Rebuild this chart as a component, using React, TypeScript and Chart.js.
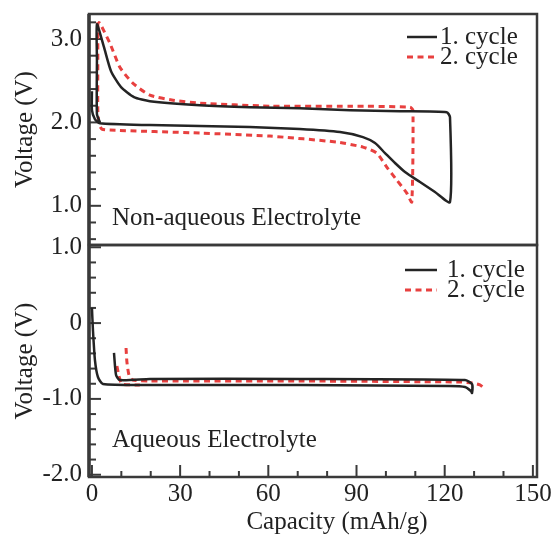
import React, { useEffect, useRef } from "react";
import { Chart, registerables } from "chart.js";

Chart.register(...registerables);

// ---- shared capacity axis (mAh/g) ----
const capacityMin = -1;
const capacityMax = 151.4;
const capacityTicks = [0, 30, 60, 90, 120, 150];
const capacityTitle = "Capacity (mAh/g)";

// ---- non-aqueous panel (V) ----
const nonAqVoltMin = 0.53;
const nonAqVoltMax = 3.3;
const nonAqVoltTicks = [1.0, 2.0, 3.0];

// cycle 1: discharge to 1.0 V, then charge traced back towards zero capacity
const nonAqCycle1Cap = [
  0, 0, 1.0, 2.7, 19.7, 36.7, 53.7, 70.7, 84.4, 92.2, 96.3, 99.7, 103.1, 106.5, 111.6, 116.7, 121.8,
  121.8, 120.7, 104.8, 87.8, 70.7, 53.7, 36.7, 19.7, 14.3, 9.9, 6.5, 4.1, 1.7,
  1.7, 1.7, 2.7,
];
const nonAqCycle1Volt = [
  2.375, 2.147, 2.04, 1.99, 1.968, 1.956, 1.944, 1.92, 1.884, 1.824, 1.752, 1.632, 1.513, 1.405, 1.285, 1.165, 1.045,
  2.063, 2.123, 2.135, 2.147, 2.171, 2.183, 2.207, 2.255, 2.303, 2.423, 2.614, 2.902, 3.177,
  2.746, 2.1, 2.004,
];

// cycle 2
const nonAqCycle2Cap = [
  2.0, 2.0, 2.0, 2.4, 3.4, 6.1, 36.7, 60.5, 83.3, 92.2, 96.9, 100.3, 103.7, 107.1, 108.8,
  109.2, 108.2, 87.8, 60.5, 36.7, 27.6, 19.7, 13.9, 9.5, 6.1, 2.7, 2.0,
];
const nonAqCycle2Volt = [
  3.201, 2.746, 2.147, 1.98, 1.92, 1.908, 1.872, 1.836, 1.764, 1.704, 1.632, 1.464, 1.309, 1.153, 1.045,
  2.147, 2.183, 2.195, 2.195, 2.231, 2.267, 2.327, 2.471, 2.662, 2.95, 3.189, 3.201,
];

// ---- aqueous panel (V) ----
const aqVoltMin = -2.03;
const aqVoltMax = 1.03;
const aqVoltTicks = [-2.0, -1.0, 0, 1.0];

const aqCycle1Cap = [
  0, 0.34, 1.02, 2.04, 3.74, 19.7, 70.7, 121.8, 126.9, 128.9, 129.3,
  129.3, 126.9, 70.7, 19.7, 9.5, 8.2, 7.5,
];
const aqCycle1Volt = [
  0.199, -0.091, -0.487, -0.711, -0.803, -0.816, -0.816, -0.83, -0.843, -0.896, -0.922,
  -0.803, -0.751, -0.737, -0.737, -0.751, -0.685, -0.394,
];

const aqCycle2Cap = [
  11.6, 11.9, 12.6, 13.9, 19.7, 70.7, 125.2, 129.3, 132.0, 133.3,
  133.3,
  8.5, 9.2, 10.2, 16.3,
];
const aqCycle2Volt = [
  -0.328, -0.513, -0.685, -0.751, -0.764, -0.764, -0.777, -0.79, -0.816, -0.856,
  null,
  -0.566, -0.698, -0.803, -0.816,
];

const cycleLabels = ["1. cycle", "2. cycle"];
const panelTitles = ["Non-aqueous Electrolyte", "Aqueous Electrolyte"];

// ---- styling ----
const SERIF = "'Liberation Serif', 'Times New Roman', serif";
const TEXT = "#222222";
const FRAME = "#3a3a3a";
const BLACK = "#242424";
const RED = "#e8403f";

const toPoints = (xs: number[], ys: (number | null)[]) =>
  xs.map((x, i) => ({ x, y: ys[i] }));

const fmtVolt = (v: number) => (v === 0 ? "0" : Number(v).toFixed(1));

const cycleDatasets = (c1x: number[], c1y: (number | null)[], c2x: number[], c2y: (number | null)[]) => [
  {
    label: cycleLabels[0],
    data: toPoints(c1x, c1y),
    borderColor: BLACK,
    borderWidth: 2.5,
    pointRadius: 0,
    tension: 0.2,
    showLine: true,
    fill: false,
  },
  {
    label: cycleLabels[1],
    data: toPoints(c2x, c2y),
    borderColor: RED,
    borderWidth: 3,
    borderDash: [6, 4.5],
    pointRadius: 0,
    tension: 0.2,
    showLine: true,
    fill: false,
  },
];

// Frame, inward tick marks, panel caption, legend and capacity title
const panelDecor = {
  id: "panelDecor",
  beforeDatasetsDraw(chart: any, _args: any, opts: any) {
    const { ctx, chartArea: a, scales } = chart;
    const ys = scales.y;
    const xs = scales.x;
    ctx.save();
    ctx.strokeStyle = FRAME;
    ctx.lineCap = "butt";

    // y ticks
    ctx.lineWidth = 2;
    const yMajor: number[] = opts.yMajor;
    yMajor.forEach((v) => {
      const p = ys.getPixelForValue(v);
      ctx.beginPath();
      ctx.moveTo(a.left, p);
      ctx.lineTo(a.left + 12, p);
      ctx.stroke();
    });
    for (let k = Math.ceil(ys.min / opts.yMinorStep); k * opts.yMinorStep <= ys.max; k++) {
      const v = Math.round(k * opts.yMinorStep * 100) / 100;
      if (yMajor.some((m) => Math.abs(m - v) < 1e-6)) continue;
      const p = ys.getPixelForValue(v);
      ctx.beginPath();
      ctx.moveTo(a.left, p);
      ctx.lineTo(a.left + 7, p);
      ctx.stroke();
    }

    // x ticks (bottom panel only)
    if (opts.xTicks) {
      for (let v = 0; v <= 150; v += 10) {
        const p = xs.getPixelForValue(v);
        const len = v % 30 === 0 ? 12 : 6;
        ctx.beginPath();
        ctx.moveTo(p, a.bottom);
        ctx.lineTo(p, a.bottom - len);
        ctx.stroke();
      }
    }

    // frame
    ctx.lineWidth = 2.5;
    ctx.strokeRect(a.left, a.top, a.right - a.left, a.bottom - a.top);
    ctx.lineWidth = 3.5;
    ctx.beginPath();
    ctx.moveTo(a.left, a.top);
    ctx.lineTo(a.left, a.bottom);
    ctx.stroke();
    ctx.restore();
  },
  afterDraw(chart: any, _args: any, opts: any) {
    const { ctx, chartArea: a } = chart;
    ctx.save();
    ctx.font = `25px ${SERIF}`;
    ctx.fillStyle = TEXT;
    ctx.textBaseline = "middle";
    ctx.textAlign = "left";
    ctx.fillText(opts.caption, a.left + 23, a.bottom - opts.captionOffset);

    const lg = opts.legend;
    chart.data.datasets.forEach((ds: any, i: number) => {
      const y = a.top + lg.top + i * 20;
      ctx.save();
      ctx.strokeStyle = ds.borderColor;
      ctx.lineWidth = ds.borderWidth;
      ctx.setLineDash(ds.borderDash || []);
      ctx.beginPath();
      ctx.moveTo(a.right - lg.lineStart, y);
      ctx.lineTo(a.right - lg.lineEnd, y);
      ctx.stroke();
      ctx.restore();
      ctx.fillText(ds.label, a.right - lg.textStart, y);
    });

    if (opts.xTitle) {
      ctx.textAlign = "center";
      ctx.fillText(opts.xTitle, (a.left + a.right) / 2 + 24, a.bottom + 45);
    }
    ctx.restore();
  },
};

const tickFont = { family: SERIF, size: 25 };

function nonAqueousConfig(): any {
  return {
    type: "scatter",
    data: { datasets: cycleDatasets(nonAqCycle1Cap, nonAqCycle1Volt, nonAqCycle2Cap, nonAqCycle2Volt) },
    plugins: [panelDecor],
    options: {
      responsive: false,
      animation: false,
      layout: { padding: { top: 54, right: 103, bottom: 30, left: 0 } },
      plugins: {
        legend: { display: false },
        tooltip: { enabled: false },
        panelDecor: {
          yMajor: nonAqVoltTicks,
          yMinorStep: 0.2,
          xTicks: false,
          caption: panelTitles[0],
          captionOffset: 27,
          legend: { top: 23, lineStart: 130, lineEnd: 100, textStart: 97 },
        },
      },
      scales: {
        x: { type: "linear", min: capacityMin, max: capacityMax, display: false },
        y: {
          type: "linear",
          min: nonAqVoltMin,
          max: nonAqVoltMax,
          afterBuildTicks: (s: any) => {
            s.ticks = nonAqVoltTicks.map((v) => ({ value: v }));
          },
          afterFit: (s: any) => {
            s.width = 89;
          },
          ticks: { font: tickFont, color: TEXT, padding: 7, callback: (v: number) => fmtVolt(v) },
          grid: { display: false, drawTicks: false },
          border: { display: false },
          title: {
            display: true,
            text: "Voltage (V)",
            font: tickFont,
            color: TEXT,
            padding: { top: 10, bottom: 0 },
          },
        },
      },
    },
  };
}

function aqueousConfig(): any {
  return {
    type: "scatter",
    data: { datasets: cycleDatasets(aqCycle1Cap, aqCycle1Volt, aqCycle2Cap, aqCycle2Volt) },
    plugins: [panelDecor],
    options: {
      responsive: false,
      animation: false,
      spanGaps: false,
      layout: { padding: { top: 40, right: 103, bottom: 40, left: 0 } },
      plugins: {
        legend: { display: false },
        tooltip: { enabled: false },
        panelDecor: {
          yMajor: aqVoltTicks,
          yMinorStep: 0.2,
          xTicks: true,
          caption: panelTitles[1],
          captionOffset: 37,
          legend: { top: 25, lineStart: 132, lineEnd: 100, textStart: 90 },
          xTitle: capacityTitle,
        },
      },
      scales: {
        x: {
          type: "linear",
          min: capacityMin,
          max: capacityMax,
          afterBuildTicks: (s: any) => {
            s.ticks = capacityTicks.map((v) => ({ value: v }));
          },
          afterFit: (s: any) => {
            s.height = 60;
          },
          ticks: { font: tickFont, color: TEXT, padding: 2, maxRotation: 0, callback: (v: number) => String(v) },
          grid: { display: false, drawTicks: false },
          border: { display: false },
        },
        y: {
          type: "linear",
          min: aqVoltMin,
          max: aqVoltMax,
          afterBuildTicks: (s: any) => {
            s.ticks = aqVoltTicks.map((v) => ({ value: v }));
          },
          afterFit: (s: any) => {
            s.width = 89;
          },
          ticks: { font: tickFont, color: TEXT, padding: 7, callback: (v: number) => fmtVolt(v) },
          grid: { display: false, drawTicks: false },
          border: { display: false },
          title: {
            display: true,
            text: "Voltage (V)",
            font: tickFont,
            color: TEXT,
            padding: { top: 10, bottom: 0 },
          },
        },
      },
    },
  };
}

export default function App() {
  const topRef = useRef<HTMLCanvasElement>(null);
  const bottomRef = useRef<HTMLCanvasElement>(null);

  useEffect(() => {
    const top = new Chart(topRef.current as HTMLCanvasElement, nonAqueousConfig());
    const bottom = new Chart(bottomRef.current as HTMLCanvasElement, aqueousConfig());
    return () => {
      top.destroy();
      bottom.destroy();
    };
  }, []);

  return (
    <div
      style={{
        position: "absolute",
        left: 0,
        top: 0,
        width: 553,
        height: 537,
        overflow: "hidden",
        background: "#ffffff",
      }}
    >
      <canvas
        ref={topRef}
        width={640}
        height={315}
        style={{ position: "absolute", left: 0, top: -40, width: 640, height: 315 }}
      />
      <canvas
        ref={bottomRef}
        width={640}
        height={372}
        style={{ position: "absolute", left: 0, top: 205, width: 640, height: 372 }}
      />
    </div>
  );
}
